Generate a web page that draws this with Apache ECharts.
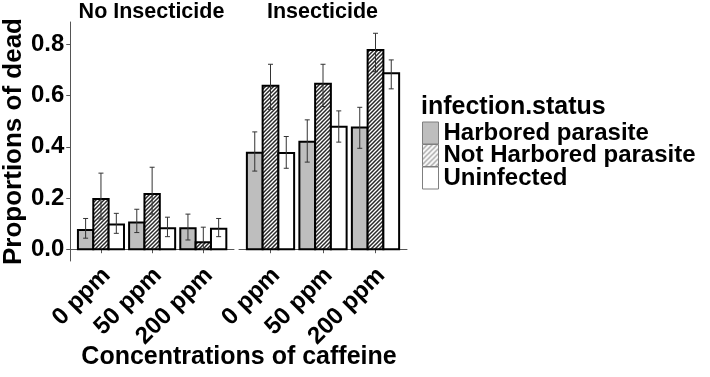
<!DOCTYPE html>
<html>
<head>
<meta charset="utf-8">
<script src="https://cdn.jsdelivr.net/npm/echarts@6/dist/echarts.min.js"></script>
<style>
  html, body { margin: 0; padding: 0; background: #fff; }
  #chart { width: 710px; height: 377px; }
</style>
</head>
<body>
<div id="chart"></div>
<script>
// data
const concentrations = ["0 ppm", "50 ppm", "200 ppm"];
const panels = ["No Insecticide", "Insecticide"];
const statuses = ["Harbored parasite", "Not Harbored parasite", "Uninfected"];
const yTicks = [0, 0.2, 0.4, 0.6, 0.8];

// No Insecticide
const noInsHarbored = [0.075, 0.104, 0.082];
const noInsHarboredLo = [0.043, 0.065, 0.036];
const noInsHarboredHi = [0.12, 0.156, 0.137];
const noInsNotHarbored = [0.196, 0.216, 0.027];
const noInsNotHarboredLo = [0.118, 0.137, 0.0];
const noInsNotHarboredHi = [0.297, 0.32, 0.086];
const noInsUninfected = [0.096, 0.082, 0.08];
const noInsUninfectedLo = [0.062, 0.049, 0.049];
const noInsUninfectedHi = [0.14, 0.125, 0.12];

// Insecticide
const insHarbored = [0.377, 0.42, 0.475];
const insHarboredLo = [0.305, 0.34, 0.394];
const insHarboredHi = [0.458, 0.505, 0.554];
const insNotHarbored = [0.638, 0.646, 0.778];
const insNotHarboredLo = [0.546, 0.557, 0.693];
const insNotHarboredHi = [0.722, 0.722, 0.843];
const insUninfected = [0.376, 0.478, 0.687];
const insUninfectedLo = [0.316, 0.418, 0.626];
const insUninfectedHi = [0.44, 0.54, 0.739];

const FONT = "Liberation Sans";

function hatch(size, lineColor, lw) {
  const c = document.createElement("canvas");
  c.width = c.height = size;
  const ctx = c.getContext("2d");
  ctx.fillStyle = "#fff";
  ctx.fillRect(0, 0, size, size);
  ctx.strokeStyle = lineColor;
  ctx.lineWidth = lw;
  ctx.beginPath();
  ctx.moveTo(-1, size + 1); ctx.lineTo(size + 1, -1);
  ctx.moveTo(-1, 1); ctx.lineTo(1, -1);
  ctx.moveTo(size - 1, size + 1); ctx.lineTo(size + 1, size - 1);
  ctx.stroke();
  return { image: c, repeat: "repeat" };
}

const barFills = ["#bebebe", hatch(4, "#2a2a2a", 1.5), "#ffffff"];
const legendFills = ["#bebebe", hatch(5, "#8a8a8a", 1.2), "#ffffff"];

function rows(vals, lo, hi) {
  return vals.map((v, i) => [i + 1, v, lo[i], hi[i]]);
}

const panelData = [
  [rows(noInsHarbored, noInsHarboredLo, noInsHarboredHi),
   rows(noInsNotHarbored, noInsNotHarboredLo, noInsNotHarboredHi),
   rows(noInsUninfected, noInsUninfectedLo, noInsUninfectedHi)],
  [rows(insHarbored, insHarboredLo, insHarboredHi),
   rows(insNotHarbored, insNotHarboredLo, insNotHarboredHi),
   rows(insUninfected, insUninfectedLo, insUninfectedHi)]
];

const dodge = 0.3;

function makeRender(k) {
  return function (params, api) {
    const x = api.value(0) + (k - 1) * dodge;
    const v = api.value(1), lo = api.value(2), hi = api.value(3);
    const a = api.coord([x - dodge / 2, v]);
    const b = api.coord([x + dodge / 2, 0]);
    const top = api.coord([x, hi]);
    const bot = api.coord([x, lo]);
    const cap = 2.5;
    const err = { stroke: "#333", lineWidth: 1 };
    return {
      type: "group",
      children: [
        { type: "rect", shape: { x: a[0], y: a[1], width: b[0] - a[0], height: b[1] - a[1] },
          style: { fill: barFills[k], stroke: "#000", lineWidth: 2 } },
        { type: "line", shape: { x1: top[0], y1: top[1], x2: bot[0], y2: bot[1] }, style: err },
        { type: "line", shape: { x1: top[0] - cap, y1: top[1], x2: top[0] + cap, y2: top[1] }, style: err },
        { type: "line", shape: { x1: bot[0] - cap, y1: bot[1], x2: bot[0] + cap, y2: bot[1] }, style: err }
      ]
    };
  };
}

const series = [];
panelData.forEach((pd, p) => {
  pd.forEach((d, k) => {
    series.push({
      type: "custom",
      name: statuses[k],
      xAxisIndex: p,
      yAxisIndex: p,
      data: d,
      encode: { x: 0, y: 1 },
      itemStyle: { color: legendFills[k], borderColor: "#7f7f7f", borderWidth: 1 },
      renderItem: makeRender(k),
      silent: true
    });
  });
});

const axisLineStyle = { color: "#555", width: 1 };

function xAxis(p) {
  return {
    type: "value",
    gridIndex: p,
    min: 0.4,
    max: 3.6,
    splitLine: { show: false },
    axisLine: { show: true, lineStyle: axisLineStyle },
    axisTick: { show: true, length: 4, lineStyle: axisLineStyle, customValues: [1, 2, 3] },
    axisLabel: {
      customValues: [1, 2, 3],
      formatter: v => concentrations[Math.round(v) - 1],
      rotate: 45,
      margin: 5,
      verticalAlign: "top",
      lineHeight: 16,
      color: "#000",
      fontSize: 24,
      fontWeight: "bold",
      fontFamily: FONT
    }
  };
}

function yAxis(p) {
  return {
    type: "value",
    gridIndex: p,
    min: -0.046,
    max: 0.887,
    show: p === 0,
    name: p === 0 ? "Proportions of dead" : "",
    nameLocation: "middle",
    nameRotate: 90,
    nameGap: 39,
    nameTextStyle: { color: "#000", fontSize: 26, fontWeight: "bold", fontFamily: FONT },
    splitLine: { show: false },
    axisLine: { show: true, lineStyle: axisLineStyle },
    axisTick: { show: true, length: 4, lineStyle: axisLineStyle, customValues: yTicks },
    axisLabel: {
      customValues: yTicks,
      formatter: v => v.toFixed(1),
      margin: 6,
      color: "#000",
      fontSize: 24,
      fontWeight: "bold",
      fontFamily: FONT
    }
  };
}

const chart = echarts.init(document.getElementById("chart"), null, { renderer: "canvas" });

chart.setOption({
  animation: false,
  backgroundColor: "#fff",
  grid: [
    { left: 67, top: 22, width: 167, height: 239 },
    { left: 239, top: 22, width: 168, height: 239 }
  ],
  xAxis: [xAxis(0), xAxis(1)],
  yAxis: [yAxis(0), yAxis(1)],
  legend: {
    orient: "vertical",
    left: 422,
    top: 121,
    padding: 0,
    itemWidth: 16,
    itemHeight: 22,
    itemGap: -1.5,
    icon: "rect",
    data: statuses.map((s, k) => ({
      name: s,
      itemStyle: { color: legendFills[k], borderColor: "#7f7f7f", borderWidth: 1 }
    })),
    textStyle: { color: "#000", fontSize: 24, fontWeight: "bold", fontFamily: FONT },
    selectedMode: false
  },
  graphic: [
    { type: "text", x: 151.5, y: 12, style: { text: panels[0], fill: "#000", font: "bold 21.5px " + FONT, textAlign: "center", textVerticalAlign: "middle" } },
    { type: "text", x: 322.5, y: 12, style: { text: panels[1], fill: "#000", font: "bold 21.5px " + FONT, textAlign: "center", textVerticalAlign: "middle" } },
    { type: "text", x: 239, y: 357, style: { text: "Concentrations of caffeine", fill: "#000", font: "bold 25px " + FONT, textAlign: "center", textVerticalAlign: "middle" } },
    { type: "text", x: 421, y: 107, style: { text: "infection.status", fill: "#000", font: "bold 25px " + FONT, textAlign: "left", textVerticalAlign: "middle" } }
  ],
  series: series
});
</script>
</body>
</html>
